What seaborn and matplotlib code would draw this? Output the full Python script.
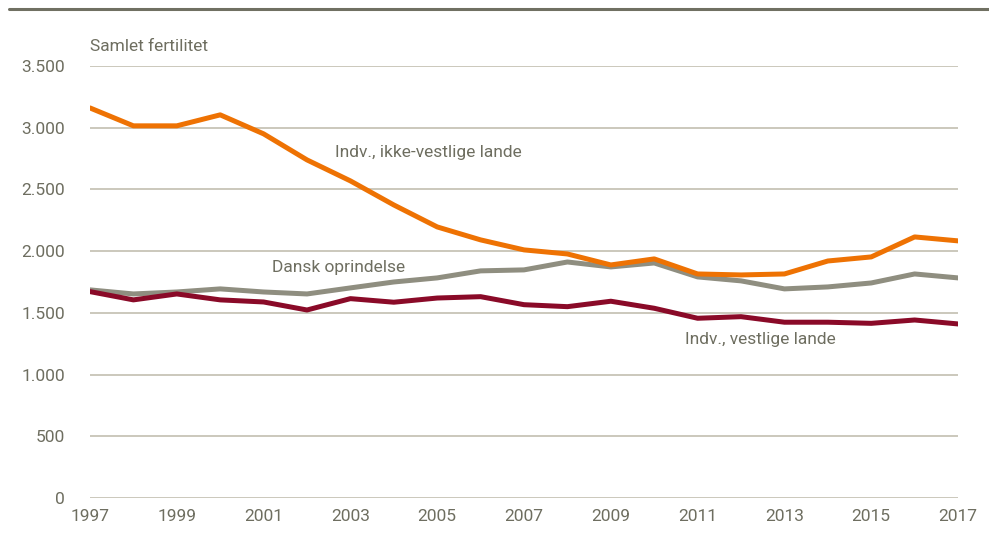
import numpy as np
import pandas as pd
import matplotlib
matplotlib.use("Agg")
import matplotlib.pyplot as plt
import seaborn as sns
from matplotlib import font_manager
from matplotlib.lines import Line2D

years = list(range(1997, 2018))
ikke_vestlige = [3160, 3015, 3015, 3104, 2950, 2739, 2569, 2374, 2196, 2091, 2010,
                 1977, 1888, 1937, 1815, 1807, 1815, 1920, 1953, 2115, 2083]
dansk = [1686, 1653, 1669, 1694, 1669, 1653, 1702, 1750, 1783, 1840, 1848,
         1912, 1872, 1904, 1791, 1759, 1694, 1710, 1742, 1815, 1783]
vestlige = [1672, 1605, 1653, 1605, 1588, 1523, 1615, 1586, 1620, 1631, 1566,
            1550, 1594, 1537, 1456, 1469, 1424, 1424, 1415, 1442, 1410]
series_names = ["Indv., ikke-vestlige lande", "Dansk oprindelse", "Indv., vestlige lande"]
y_ticks = [0, 500, 1000, 1500, 2000, 2500, 3000, 3500]
x_ticks = list(range(1997, 2018, 2))

df = pd.DataFrame({
    "year": years * 3,
    "value": ikke_vestlige + dansk + vestlige,
    "series": [series_names[0]] * 21 + [series_names[1]] * 21 + [series_names[2]] * 21,
})

sns.set_style("white")
names = {f.name for f in font_manager.fontManager.ttflist}
fam = "Liberation Sans Narrow" if "Liberation Sans Narrow" in names else "Roboto"
plt.rcParams["font.family"] = [fam, "DejaVu Sans"]

text_col = "#6E6E60"
palette = {series_names[0]: "#EE7203", series_names[1]: "#8F8E80", series_names[2]: "#8A0A28"}

fig = plt.figure(figsize=(9.89, 5.39), dpi=100)
ax = fig.add_axes([0.091, 0.0761, 0.8777, 0.8015])

for yv in y_ticks:
    ax.axhline(yv, color="#CBC8BC", lw=1.4, zorder=0)

# draw in order so orange on top of gray
sns.lineplot(data=df, x="year", y="value", hue="series", palette=palette,
             hue_order=[series_names[1], series_names[2], series_names[0]],
             lw=3.6, legend=False, ax=ax, solid_capstyle="round")

ax.set_xlim(1997, 2017)
ax.set_ylim(0, 3500)
ax.set_xticks(x_ticks)
ax.set_yticks(y_ticks)
ax.set_yticklabels([f"{v:,}".replace(",", ".") for v in y_ticks])
ax.tick_params(axis="both", length=0, labelsize=12.5, colors=text_col)
ax.tick_params(axis="y", pad=18)
ax.tick_params(axis="x", pad=8)
ax.set_xlabel("")
ax.set_ylabel("")
sns.despine(ax=ax, left=True, bottom=True)

ax.text(1997, 3600, "Samlet fertilitet", fontsize=12.5, color=text_col, va="bottom", ha="left")
ax.text(2002.65, 2800, series_names[0], fontsize=12.5, color=text_col, va="center")
ax.text(2001.2, 1870, series_names[1], fontsize=12.5, color=text_col, va="center")
ax.text(2010.7, 1280, series_names[2], fontsize=12.5, color=text_col, va="center")

fig.add_artist(Line2D([9 / 989, 1], [1 - 9 / 539, 1 - 9 / 539], color="#707062", lw=2.2))

fig.savefig("out.png", dpi=100)
